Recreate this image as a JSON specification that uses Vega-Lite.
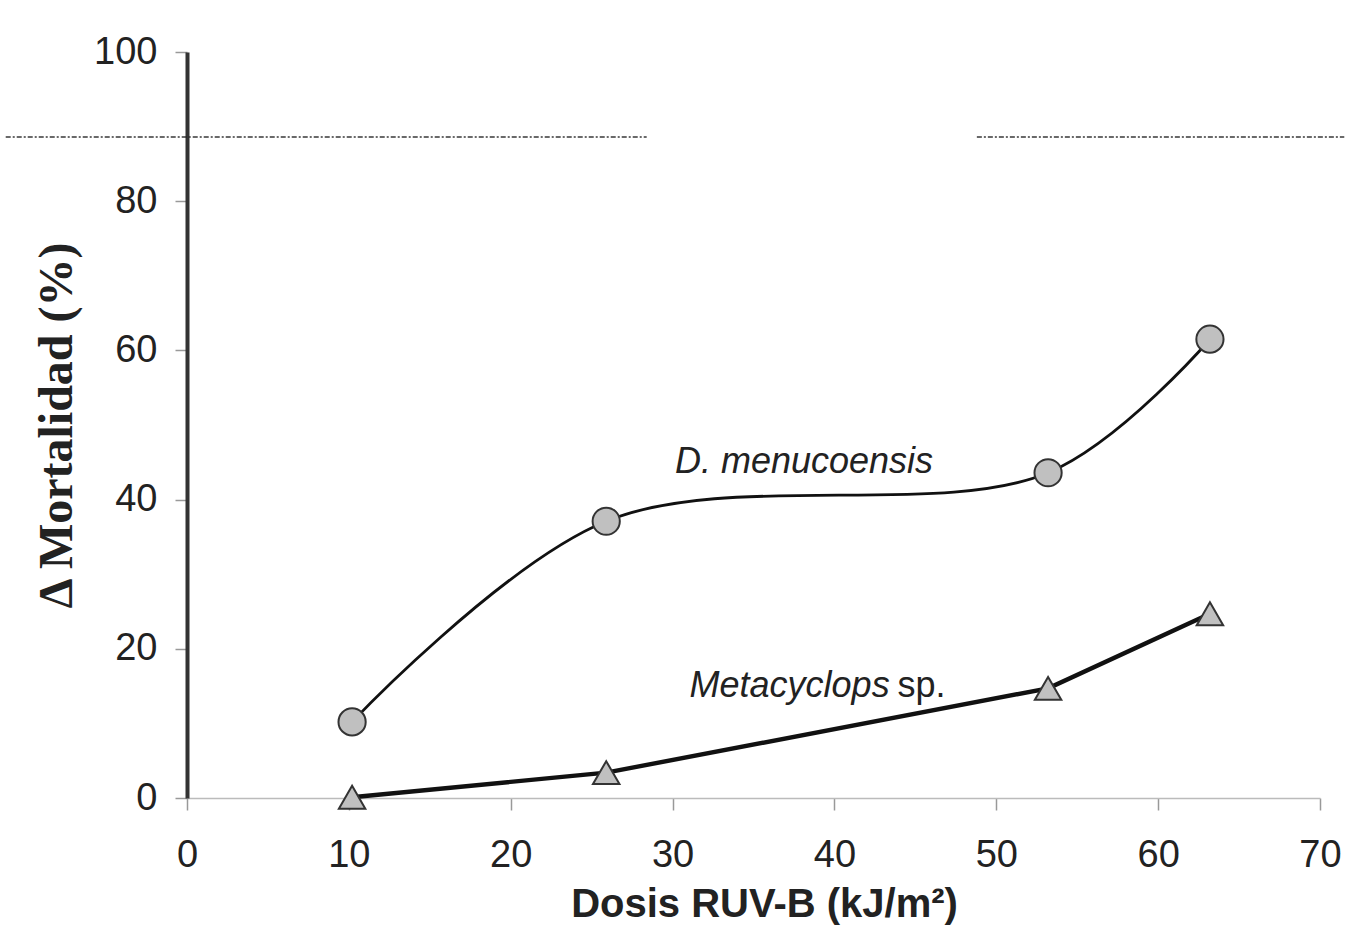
{
  "$schema": "https://vega.github.io/schema/vega-lite/v6.json",
  "width": 1133,
  "height": 746,
  "autosize": {"type": "none"},
  "padding": {"left": 187, "top": 52, "right": 25, "bottom": 143},
  "background": "white",
  "config": {"view": {"stroke": null}},
  "datasets": {
    "pts": [
      {"dosis": 10.2, "mort": 10.2, "sp": "D. menucoensis"},
      {"dosis": 25.9, "mort": 37.1, "sp": "D. menucoensis"},
      {"dosis": 53.2, "mort": 43.6, "sp": "D. menucoensis"},
      {"dosis": 63.2, "mort": 61.5, "sp": "D. menucoensis"},
      {"dosis": 10.2, "mort": 0.1, "sp": "Metacyclops sp."},
      {"dosis": 25.9, "mort": 3.4, "sp": "Metacyclops sp."},
      {"dosis": 53.2, "mort": 14.7, "sp": "Metacyclops sp."},
      {"dosis": 63.2, "mort": 24.7, "sp": "Metacyclops sp."}
    ],
    "labels": [
      {"dosis": 30.15, "mort": 45.0, "txt": "D. menucoensis", "style": "italic"},
      {"dosis": 31.05, "mort": 15.0, "txt": "Metacyclops", "style": "italic"},
      {"dosis": 43.9, "mort": 15.0, "txt": "sp.", "style": "normal"}
    ],
    "artifacts": [
      {"a": -11.2, "b": 28.4, "y": 88.6},
      {"a": 48.8, "b": 71.5, "y": 88.6}
    ]
  },
  "layer": [
    {
      "data": {"name": "artifacts"},
      "mark": {"type": "rule", "color": "#222", "strokeWidth": 1.4, "strokeDash": [5, 2, 2, 2], "opacity": 0.9},
      "encoding": {
        "x": {"field": "a", "type": "quantitative", "scale": {"domain": [0, 70]}},
        "x2": {"field": "b"},
        "y": {"field": "y", "type": "quantitative", "scale": {"domain": [0, 100]}}
      }
    },
    {
      "data": {"name": "pts"},
      "transform": [{"filter": "datum.sp === 'D. menucoensis'"}],
      "mark": {"type": "line", "interpolate": "catmull-rom", "color": "#111", "strokeWidth": 2.8},
      "encoding": {
        "x": {"field": "dosis", "type": "quantitative", "scale": {"domain": [0, 70]},
          "axis": {"values": [0, 10, 20, 30, 40, 50, 60, 70], "title": "Dosis RUV-B (kJ/m²)",
            "grid": false, "labelFlush": false, "domainColor": "#bbbbbb", "domainWidth": 1.5, "tickColor": "#999999", "tickWidth": 1.5, "tickSize": 12,
            "labelFont": "Liberation Sans", "labelFontSize": 38, "labelColor": "#222", "labelPadding": 26,
            "titleFont": "Liberation Sans", "titleFontSize": 40, "titleFontWeight": "bold", "titleColor": "#222", "titlePadding": 10, "titleX": 577}},
        "y": {"field": "mort", "type": "quantitative", "scale": {"domain": [0, 100]},
          "axis": {"values": [0, 20, 40, 60, 80, 100], "title": "Δ Mortalidad (%)",
            "grid": false, "labelFlush": false, "domainColor": "#333333", "domainWidth": 4, "tickColor": "#999999", "tickWidth": 1.5, "tickSize": 12,
            "labelFont": "Liberation Sans", "labelFontSize": 38, "labelColor": "#222", "labelPadding": 18,
            "titleFont": "Liberation Serif", "titleFontSize": 48, "titleFontWeight": "bold", "titleColor": "#222", "titlePadding": 12}}
      }
    },
    {
      "data": {"name": "pts"},
      "transform": [{"filter": "datum.sp === 'Metacyclops sp.'"}],
      "mark": {"type": "line", "interpolate": "linear", "color": "#111", "strokeWidth": 4.4},
      "encoding": {
        "x": {"field": "dosis", "type": "quantitative"},
        "y": {"field": "mort", "type": "quantitative"}
      }
    },
    {
      "data": {"name": "pts"},
      "mark": {"type": "point", "filled": true, "fill": "#c0c0c0", "stroke": "#333333", "strokeWidth": 2, "opacity": 1},
      "encoding": {
        "x": {"field": "dosis", "type": "quantitative"},
        "y": {"field": "mort", "type": "quantitative"},
        "shape": {"field": "sp", "type": "nominal", "scale": {"domain": ["D. menucoensis", "Metacyclops sp."], "range": ["circle", "triangle-up"]}, "legend": null},
        "size": {"field": "sp", "type": "nominal", "scale": {"domain": ["D. menucoensis", "Metacyclops sp."], "range": [740, 700]}, "legend": null}
      }
    },
    {
      "data": {"name": "labels"},
      "transform": [{"filter": "datum.style === 'italic'"}],
      "mark": {"type": "text", "align": "left", "baseline": "middle", "font": "Liberation Sans", "fontSize": 36, "fontStyle": "italic", "color": "#222"},
      "encoding": {
        "x": {"field": "dosis", "type": "quantitative"},
        "y": {"field": "mort", "type": "quantitative"},
        "text": {"field": "txt"}
      }
    },
    {
      "data": {"name": "labels"},
      "transform": [{"filter": "datum.style === 'normal'"}],
      "mark": {"type": "text", "align": "left", "baseline": "middle", "font": "Liberation Sans", "fontSize": 36, "color": "#222"},
      "encoding": {
        "x": {"field": "dosis", "type": "quantitative"},
        "y": {"field": "mort", "type": "quantitative"},
        "text": {"field": "txt"}
      }
    }
  ]
}
